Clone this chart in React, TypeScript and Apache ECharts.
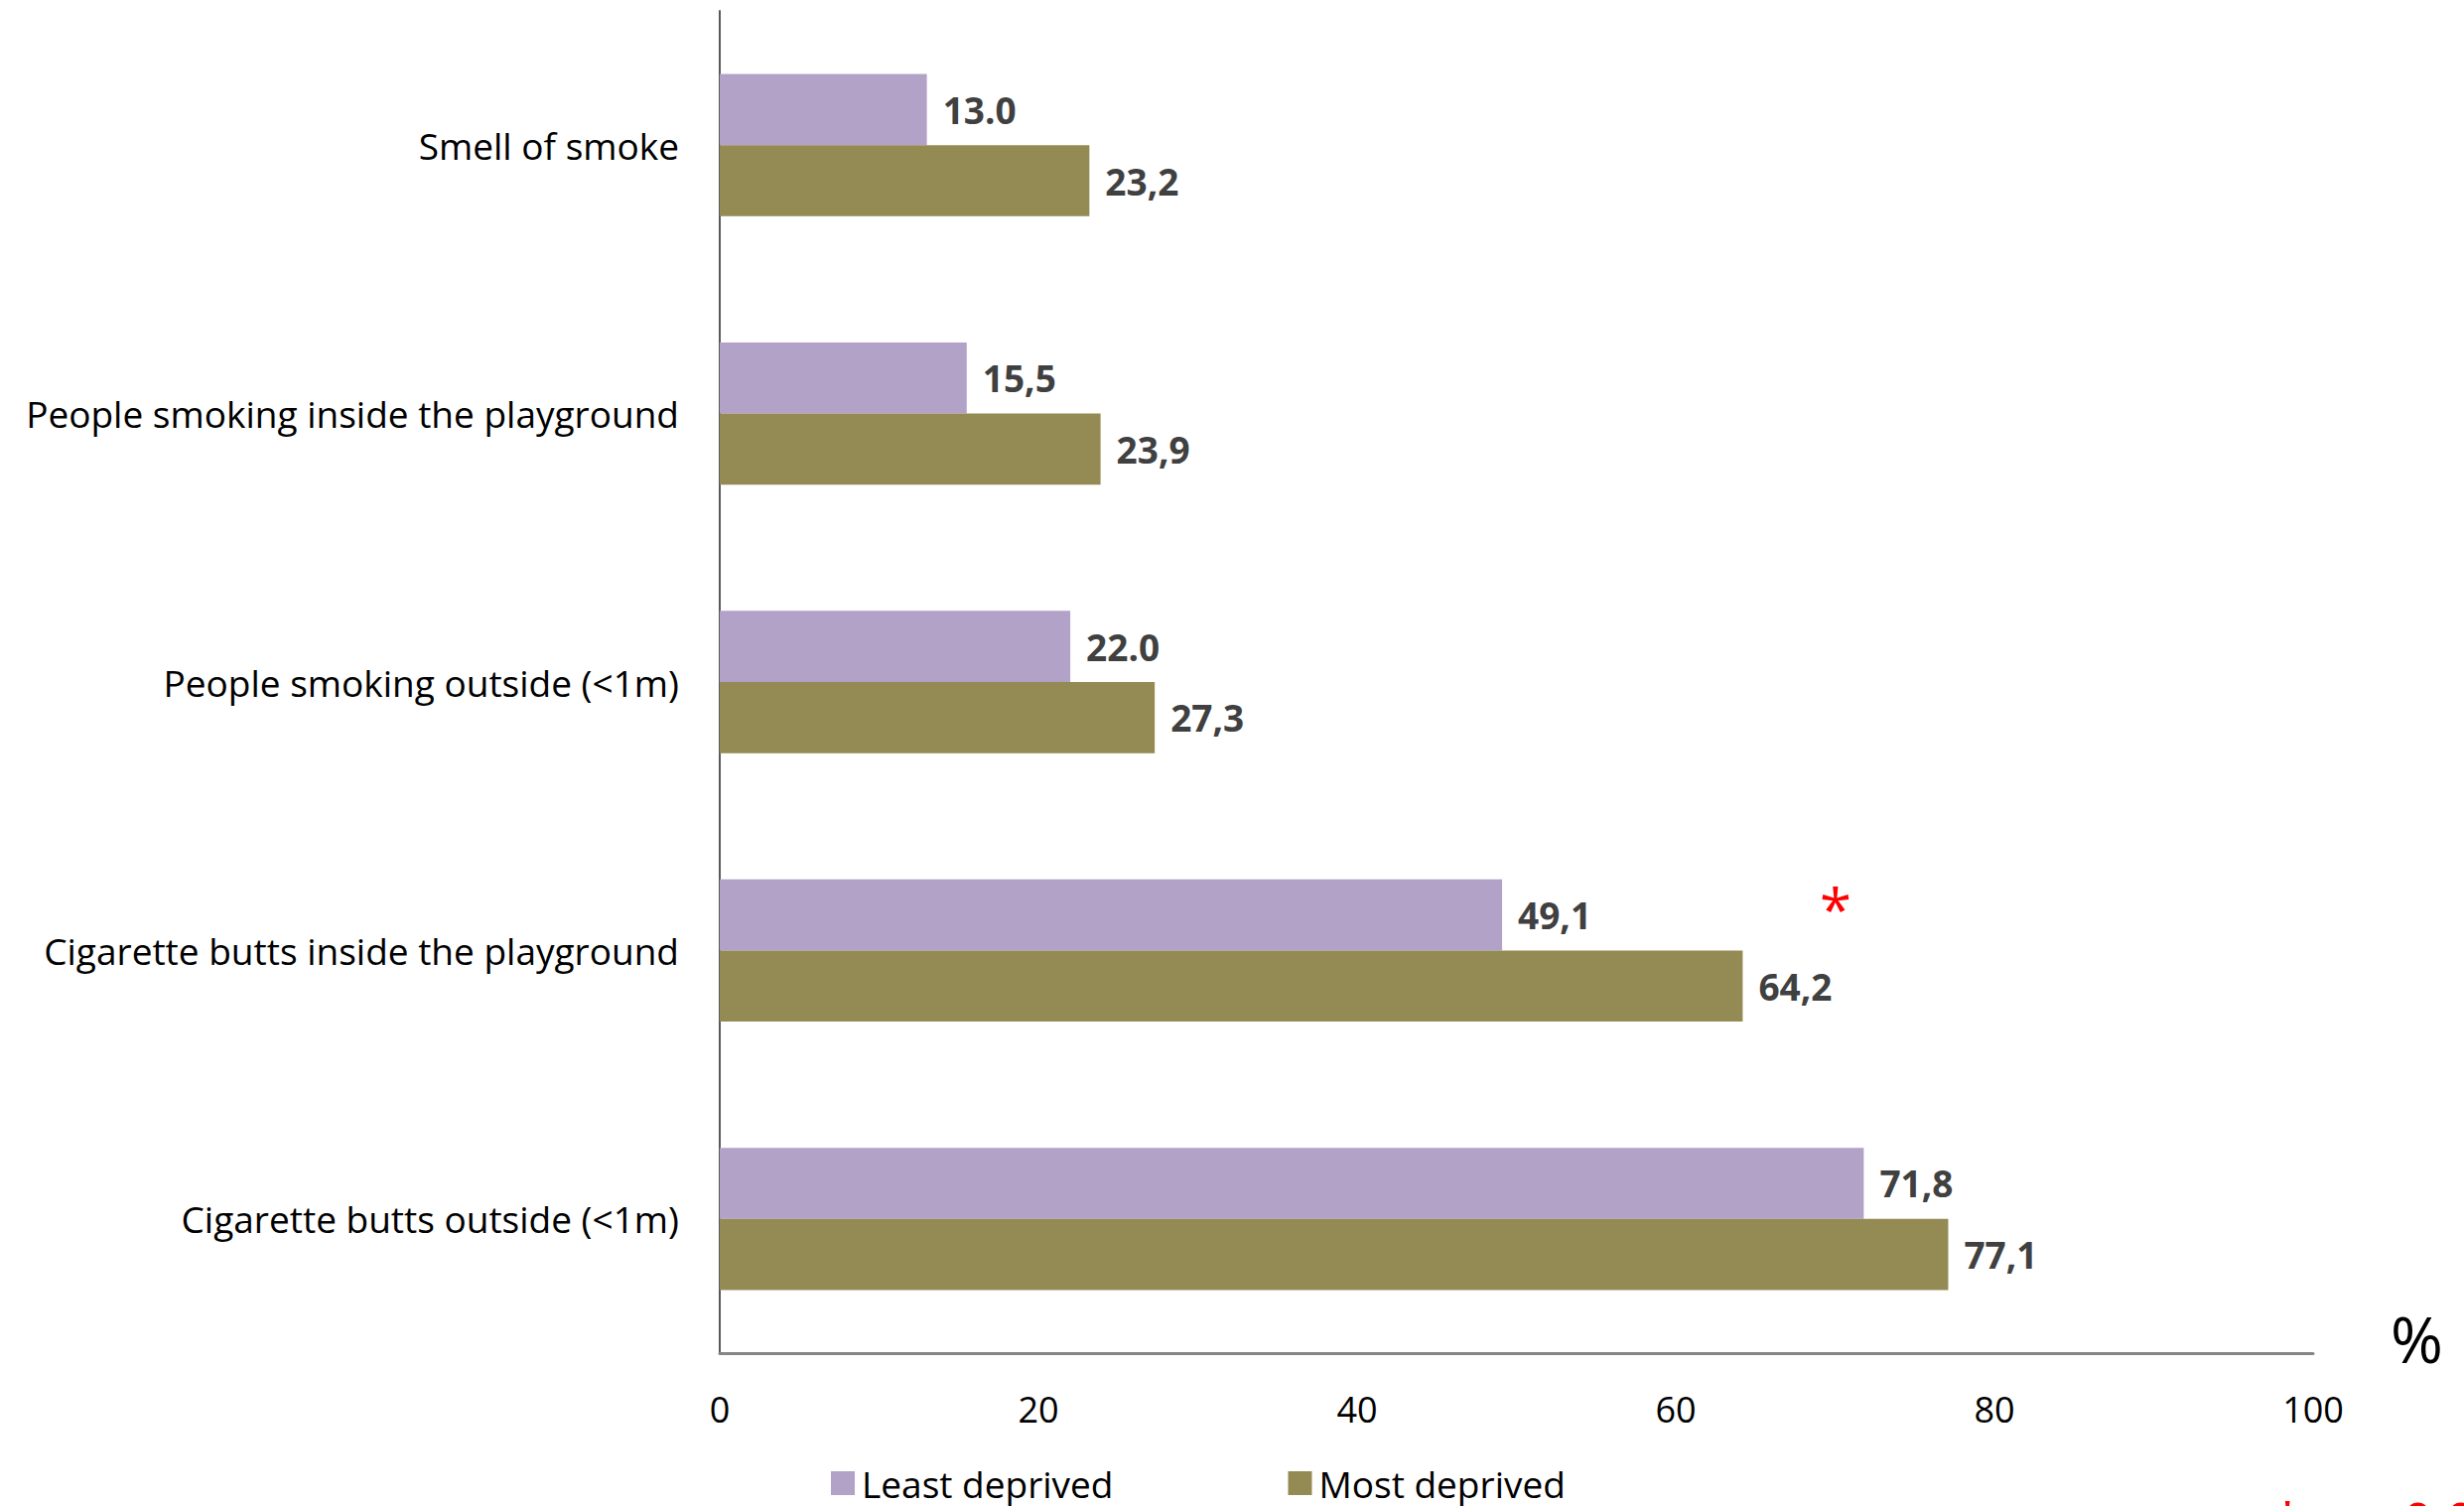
import React, { useEffect, useRef } from "react";
import * as echarts from "echarts";

// Playground observations, share of sites (%)
const categories = [
  "Smell of smoke",
  "People smoking inside the playground",
  "People smoking outside (<1m)",
  "Cigarette butts inside the playground",
  "Cigarette butts outside (<1m)",
];
const leastDeprived = [13.0, 15.5, 22.0, 49.1, 71.8];
const mostDeprived = [23.2, 23.9, 27.3, 64.2, 77.1];
const leastLabels = ["13.0", "15,5", "22.0", "49,1", "71,8"];
const mostLabels = ["23,2", "23,9", "27,3", "64,2", "77,1"];
const seriesNames = ["Least deprived", "Most deprived"];
const xTicks = { min: 0, max: 100, interval: 20 };

const FONT = "'Open Sans', 'Noto Sans', sans-serif";

export default function App() {
  const ref = useRef<HTMLDivElement>(null);

  useEffect(() => {
    document.body.style.margin = "0";
    if (!ref.current) return;
    const chart = echarts.init(ref.current, null, { renderer: "svg" });

    const valueLabel = (labels: string[]) => ({
      show: true,
      position: "right",
      distance: 16,
      color: "#404040",
      fontWeight: "bold",
      fontSize: 37,
      fontFamily: FONT,
      formatter: (p: any) => labels[p.dataIndex],
    });

    chart.setOption({
      animation: false,
      backgroundColor: "#ffffff",
      textStyle: { fontFamily: FONT },
      grid: { left: 725, right: 152, top: 11, bottom: 154, containLabel: false },
      legend: {
        left: 832,
        top: 1470,
        itemWidth: 24,
        itemHeight: 24,
        itemGap: 176,
        icon: "rect",
        textStyle: {
          fontSize: 37,
          lineHeight: 38,
          color: "#000000",
          fontFamily: FONT,
          padding: [0, 0, 0, 2],
        },
        data: seriesNames,
      },
      xAxis: {
        type: "value",
        min: xTicks.min,
        max: xTicks.max,
        interval: xTicks.interval,
        splitLine: { show: false },
        axisTick: { show: false },
        axisLine: { show: true, onZero: false, lineStyle: { color: "#868686", width: 3 } },
        axisLabel: { color: "#000000", fontSize: 36, fontFamily: FONT, margin: 38 },
      },
      yAxis: {
        type: "category",
        inverse: true,
        data: categories,
        axisTick: { show: false },
        axisLine: { show: true, lineStyle: { color: "#595959", width: 2 } },
        axisLabel: { color: "#000000", fontSize: 37, fontFamily: FONT, margin: 41 },
      },
      series: [
        {
          name: seriesNames[0],
          type: "bar",
          data: leastDeprived,
          itemStyle: { color: "#B3A2C7" },
          barGap: "0%",
          barCategoryGap: "47%",
          label: valueLabel(leastLabels),
        },
        {
          name: seriesNames[1],
          type: "bar",
          data: mostDeprived,
          itemStyle: { color: "#948A54" },
          barGap: "0%",
          barCategoryGap: "47%",
          label: valueLabel(mostLabels),
        },
      ],
      graphic: [
        {
          type: "text",
          left: 2408,
          top: 1316,
          style: { text: "%", fontSize: 64, fill: "#000000", fontFamily: FONT },
        },
        {
          type: "text",
          left: 1833,
          top: 886,
          style: { text: "*", fontSize: 58, fill: "#FF0000", fontFamily: FONT },
        },
        {
          type: "text",
          left: 2290,
          top: 1504,
          style: { text: "* p < 0.05", fontSize: 52, fill: "#FF0000", fontFamily: FONT },
        },
      ],
    });

    return () => chart.dispose();
  }, []);

  return <div ref={ref} style={{ width: 2482, height: 1517 }} />;
}
